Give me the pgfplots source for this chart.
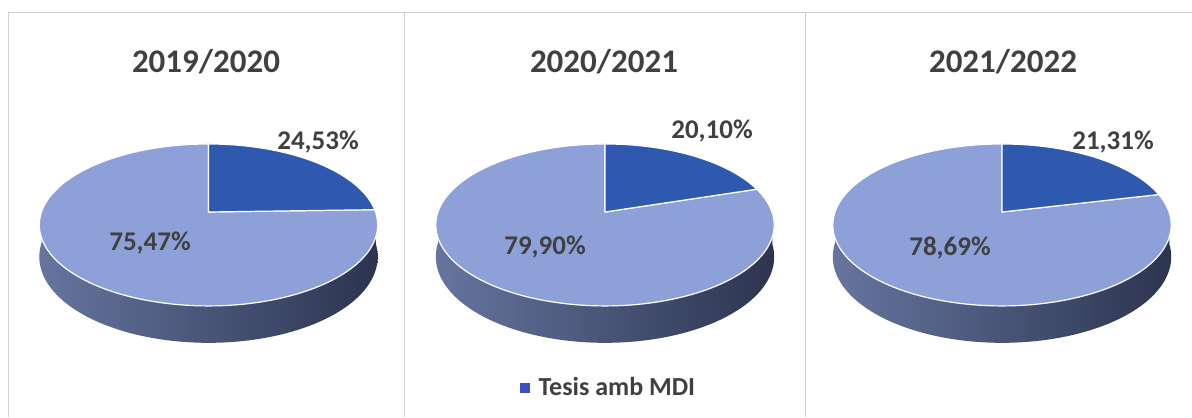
\documentclass[border=0pt]{standalone}
\usepackage{pgfplots}
\pgfplotsset{compat=1.18}
\usepackage{fontspec}
\setmainfont{Carlito}
\definecolor{darkslice}{HTML}{2F59AE}
\definecolor{lightslice}{HTML}{8DA0D8}
\definecolor{sideL}{HTML}{66759F}
\definecolor{sideM}{HTML}{4B5780}
\definecolor{sideR}{HTML}{2C344F}
\definecolor{txt}{HTML}{404040}
\definecolor{frame}{HTML}{D0D0D0}
\definecolor{legblue}{HTML}{3F4FC0}
% shares of "Tesis amb MDI" (%)
\def\pA{24.53}
\def\pB{20.10}
\def\pC{21.31}
\pgfmathsetmacro\teA{90-3.6*\pA}
\pgfmathsetmacro\teB{90-3.6*\pB}
\pgfmathsetmacro\teC{90-3.6*\pC}
% pie: #1 centre x, #2 end angle of dark slice
\newcommand{\pie}[2]{%
\addplot[forget plot, draw=none, left color=sideL, middle color=sideM, right color=sideR,
  domain=-180:180, samples=361, variable=\t]
  ({#1+167*cos(\t)/(1+0.16*sin(\t))},
   {205+78.9*sin(\t)/(1+0.16*sin(\t)) - ((\t<0) ? (31/(1+0.16*sin(\t))) : 0)}) -- cycle;
\addplot[forget plot, fill=lightslice, draw=white, line width=0.6pt, line join=round,
  domain=-270:#2, samples=240, variable=\t]
  ({#1+167*cos(\t)/(1+0.16*sin(\t))},{205+78.9*sin(\t)/(1+0.16*sin(\t))}) -- (axis cs:#1,205) -- cycle;
\addplot[forget plot, fill=darkslice, draw=white, line width=0.6pt, line join=round,
  domain=#2:90, samples=80, variable=\t]
  ({#1+167*cos(\t)/(1+0.16*sin(\t))},{205+78.9*sin(\t)/(1+0.16*sin(\t))}) -- (axis cs:#1,205) -- cycle;
}
\begin{document}
\begin{tikzpicture}
\begin{axis}[at={(0,0)}, anchor=south west, scale only axis,
  width=596pt, height=208.5pt, xmin=0, xmax=1192, ymin=0, ymax=417,
  hide axis, clip=false,
  legend style={at={(0.5117,0.0695)}, anchor=center, draw=none, fill=none,
    font=\fontsize{13}{15}\selectfont\bfseries, text=txt},
  legend cell align=left]
\draw[frame, line width=0.5pt] (axis cs:8,0) -- (axis cs:8,404) -- (axis cs:1192,404);
\draw[frame, line width=0.5pt] (axis cs:404,0) -- (axis cs:404,404);
\draw[frame, line width=0.5pt] (axis cs:805,0) -- (axis cs:805,404);
\pie{208.5}{\teA}
\pie{605}{\teB}
\pie{1002}{\teC}
\addlegendimage{only marks, mark=square*, mark size=2.2pt, legblue, mark options={draw=legblue, fill=legblue, line width=0pt}}
\addlegendentry{\hspace{2.5pt}Tesis amb MDI}
\begin{scope}[every node/.style={text=txt, font=\fontsize{16.5}{18}\selectfont\bfseries}]
\node at (axis cs:206,355) {2019/2020};
\node at (axis cs:604,355) {2020/2021};
\node at (axis cs:1003,355) {2021/2022};
\end{scope}
\begin{scope}[every node/.style={text=txt, font=\fontsize{13.5}{15}\selectfont\bfseries}]
\node at (axis cs:318,275) {24,53\%};
\node at (axis cs:150,174) {75,47\%};
\node at (axis cs:712,286) {20,10\%};
\node at (axis cs:545,170) {79,90\%};
\node at (axis cs:1113,275) {21,31\%};
\node at (axis cs:950,169) {78,69\%};
\end{scope}
\end{axis}
\pgfresetboundingbox
\path[use as bounding box] (0,0) rectangle (596pt,208.5pt);
\end{tikzpicture}
\end{document}
